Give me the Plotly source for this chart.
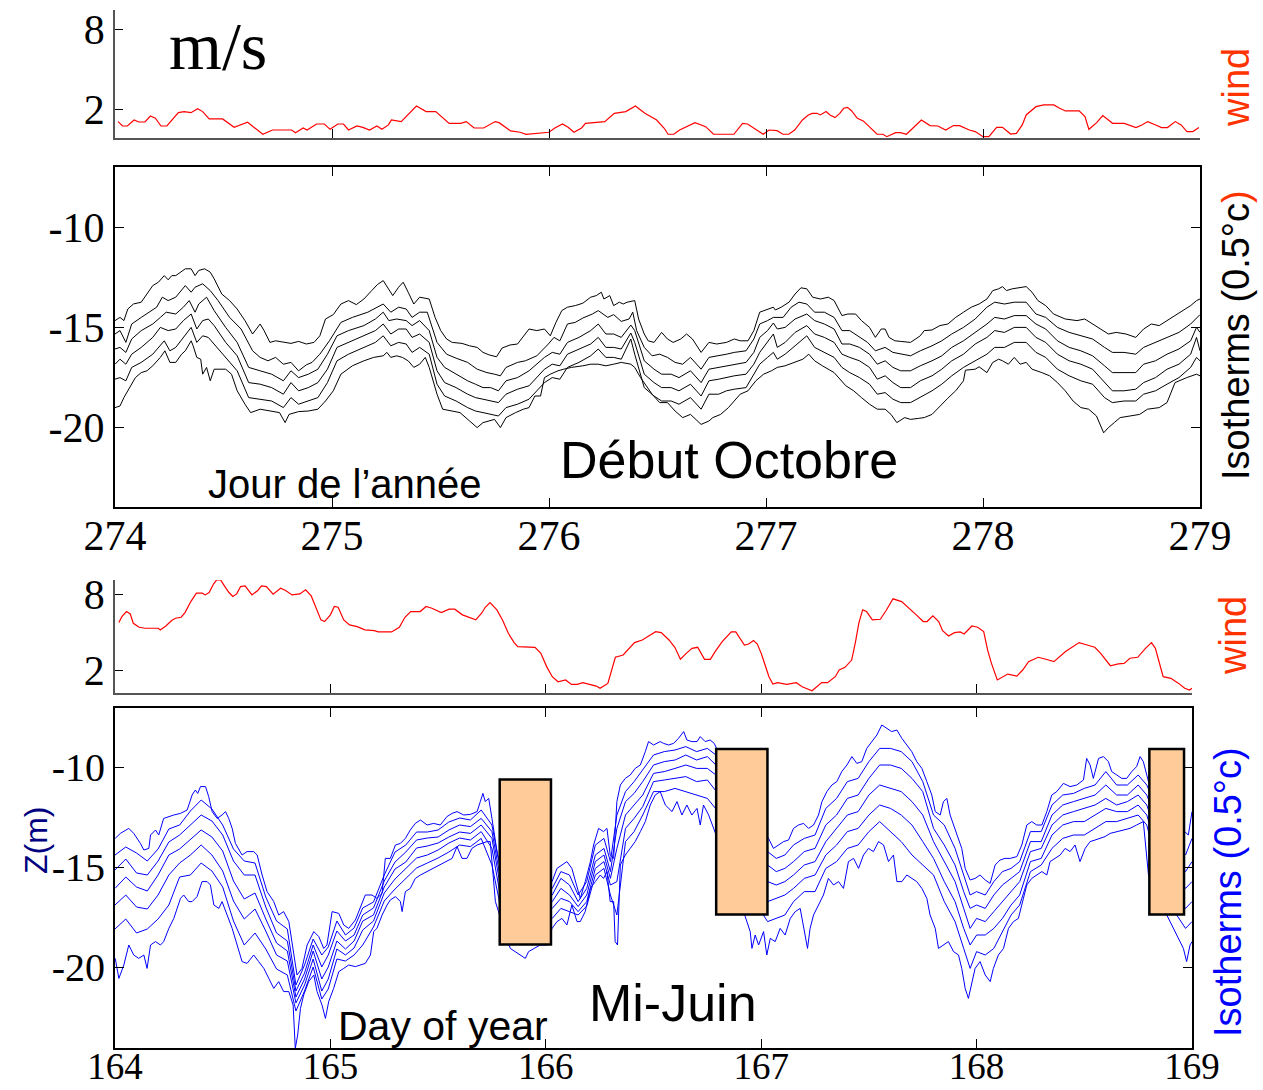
import plotly.graph_objects as go

# ---------------- DATA ----------------
WIND_OCT = [(274.014,1.08),(274.035,0.75),(274.057,0.75),(274.088,1.2),(274.110,1.05),(274.138,1.05),(274.163,1.5),(274.186,1.33),(274.212,0.75),(274.239,0.75),(274.292,1.75),(274.319,1.83),(274.350,1.75),(274.381,2.05),(274.404,1.83),(274.434,1.28),(274.496,1.28),(274.549,0.65),(274.611,1.03),(274.681,0.13),(274.726,0.45),(274.814,0.45),(274.832,0.25),(274.867,0.6),(274.885,0.45),(274.929,0.9),(274.965,0.9),(274.991,0.5),(275.027,0.9),(275.053,0.9),(275.076,0.45),(275.115,0.75),(275.142,0.65),(275.173,0.45),(275.207,0.75),(275.230,0.5),(275.260,0.83),(275.274,1.2),(275.319,1.08),(275.354,1.7),(275.389,2.25),(275.434,1.83),(275.478,1.83),(275.540,0.95),(275.593,0.95),(275.619,1.08),(275.655,0.6),(275.699,0.6),(275.752,1.08),(275.770,1.0),(275.823,0.38),(275.867,0.28),(275.894,0.13),(276.000,0.28),(276.027,0.6),(276.062,0.9),(276.088,0.65),(276.115,0.28),(276.150,0.6),(276.168,0.95),(276.257,1.08),(276.301,1.7),(276.354,1.83),(276.398,2.25),(276.442,1.7),(276.496,1.2),(276.531,0.58),(276.549,0.13),(276.575,0.13),(276.602,0.45),(276.637,0.7),(276.673,1.0),(276.722,0.7),(276.758,0.13),(276.852,0.13),(276.892,0.95),(276.915,0.9),(276.960,0.4),(276.987,0.13),(277.014,0.45),(277.051,0.4),(277.078,0.13),(277.105,0.13),(277.132,0.45),(277.168,1.2),(277.195,1.58),(277.213,1.7),(277.235,1.7),(277.250,1.58),(277.277,1.83),(277.295,1.58),(277.318,1.38),(277.340,1.7),(277.358,2.08),(277.376,2.15),(277.394,1.9),(277.421,1.33),(277.448,1.13),(277.476,0.7),(277.512,0.13),(277.539,0.13),(277.557,-0.05),(277.597,0.25),(277.620,0.25),(277.647,0.13),(277.684,0.7),(277.716,1.2),(277.756,0.78),(277.792,0.75),(277.828,0.45),(277.864,0.78),(277.892,0.78),(277.937,0.45),(277.964,0.33),(278.000,-0.05),(278.027,-0.05),(278.063,0.65),(278.090,0.65),(278.127,0.15),(278.154,0.2),(278.181,0.83),(278.199,1.58),(278.244,2.2),(278.280,2.33),(278.326,2.33),(278.353,2.08),(278.380,1.88),(278.443,1.88),(278.470,1.45),(278.488,0.5),(278.506,0.75),(278.524,1.0),(278.552,1.53),(278.597,0.95),(278.651,0.95),(278.705,0.63),(278.732,0.83),(278.759,1.08),(278.796,0.83),(278.823,0.63),(278.850,0.63),(278.886,1.08),(278.913,0.83),(278.940,0.33),(278.967,0.33),(278.995,0.63)]

WIND_JUN = [(164.018,5.76),(164.032,6.23),(164.053,6.63),(164.071,6.44),(164.085,5.70),(164.112,5.39),(164.139,5.31),(164.201,5.31),(164.210,5.18),(164.236,5.49),(164.263,5.92),(164.281,6.10),(164.307,6.18),(164.325,6.55),(164.352,7.42),(164.378,8.09),(164.405,8.09),(164.419,7.95),(164.437,8.14),(164.458,8.83),(164.472,9.14),(164.490,9.14),(164.508,8.67),(164.529,8.14),(164.547,7.82),(164.565,8.03),(164.583,8.61),(164.604,8.67),(164.636,7.95),(164.663,8.30),(164.680,8.67),(164.703,8.61),(164.734,8.01),(164.769,8.48),(164.792,8.30),(164.822,7.95),(164.858,8.03),(164.885,8.35),(164.911,7.87),(164.929,7.08),(164.956,5.97),(164.973,5.84),(165.000,6.37),(165.018,7.03),(165.036,6.97),(165.062,5.97),(165.089,5.57),(165.124,5.44),(165.160,5.18),(165.204,5.12),(165.222,5.02),(165.284,5.02),(165.320,5.39),(165.346,6.18),(165.373,6.63),(165.417,6.63),(165.444,7.03),(165.471,6.89),(165.515,6.55),(165.551,6.82),(165.577,6.82),(165.613,6.37),(165.657,6.10),(165.675,5.97),(165.702,6.50),(165.719,6.97),(165.741,7.34),(165.773,6.76),(165.799,5.97),(165.826,4.91),(165.853,4.17),(165.870,3.85),(165.950,3.80),(165.977,3.32),(166.004,2.27),(166.030,1.47),(166.057,1.07),(166.092,1.21),(166.119,0.86),(166.146,0.86),(166.172,1.00),(166.234,0.73),(166.252,0.55),(166.288,0.94),(166.323,3.01),(166.359,3.19),(166.412,4.17),(166.448,4.38),(166.474,4.65),(166.510,5.04),(166.536,4.96),(166.572,4.38),(166.599,3.80),(166.625,2.85),(166.652,3.32),(166.679,3.72),(166.705,3.80),(166.737,2.85),(166.764,2.85),(166.786,3.46),(166.819,4.25),(166.861,5.02),(166.882,5.02),(166.900,4.51),(166.922,3.98),(166.942,4.06),(166.964,4.33),(166.982,4.06),(167.000,3.32),(167.018,2.40),(167.036,1.47),(167.054,0.89),(167.076,1.00),(167.118,0.86),(167.163,1.00),(167.190,0.68),(167.236,0.36),(167.281,1.00),(167.308,1.00),(167.344,1.47),(167.362,2.00),(167.389,2.21),(167.420,2.79),(167.438,4.25),(167.453,5.70),(167.471,6.76),(167.489,6.63),(167.516,5.97),(167.553,6.02),(167.580,6.71),(167.612,7.64),(167.652,7.42),(167.688,6.89),(167.725,6.29),(167.752,5.84),(167.770,5.84),(167.797,6.29),(167.824,5.84),(167.842,5.12),(167.870,4.70),(167.897,4.96),(167.924,5.02),(167.942,4.86),(167.978,5.49),(168.005,5.39),(168.033,5.04),(168.051,3.59),(168.069,2.53),(168.096,1.21),(168.123,1.47),(168.145,1.68),(168.187,1.52),(168.214,2.00),(168.241,2.66),(168.286,3.01),(168.322,2.85),(168.359,2.66),(168.413,3.46),(168.476,4.17),(168.513,3.98),(168.549,3.80),(168.576,3.32),(168.594,2.93),(168.621,2.34),(168.658,2.48),(168.685,2.53),(168.712,2.93),(168.748,3.01),(168.784,3.72),(168.812,4.17),(168.830,3.72),(168.848,2.66),(168.866,1.47),(168.902,1.34),(168.938,0.94),(168.966,0.55),(168.989,0.41),(169.000,0.55)]

ISO_OCT_1 = [(274.00,-14.68),(274.023,-14.52),(274.041,-14.68),(274.059,-14.10),(274.085,-13.85),(274.121,-13.76),(274.147,-13.35),(274.174,-12.93),(274.200,-12.76),(274.227,-12.43),(274.245,-12.64),(274.262,-12.43),(274.280,-12.43),(274.301,-12.26),(274.324,-12.09),(274.351,-12.09),(274.369,-12.43),(274.386,-12.17),(274.413,-12.09),(274.439,-12.26),(274.457,-12.59),(274.492,-13.35),(274.528,-13.68),(274.563,-14.10),(274.599,-14.68),(274.634,-15.35),(274.669,-14.85),(274.687,-15.18),(274.714,-15.77),(274.740,-15.69),(274.776,-15.77),(274.811,-15.82),(274.846,-15.72),(274.882,-15.85),(274.917,-15.77),(274.944,-15.44),(274.970,-14.60),(275.006,-14.38),(275.041,-13.85),(275.076,-13.68),(275.112,-13.88),(275.147,-13.60),(275.183,-13.18),(275.209,-12.88),(275.236,-12.68),(275.262,-13.09),(275.280,-13.43),(275.307,-13.01),(275.328,-12.76),(275.351,-13.26),(275.377,-13.85),(275.404,-13.51),(275.448,-13.60),(275.475,-14.52),(275.501,-15.18),(275.528,-15.60),(275.554,-15.77),(275.599,-15.82),(275.634,-15.94),(275.669,-16.02),(275.696,-16.27),(275.723,-16.39),(275.758,-16.49),(275.784,-16.05),(275.820,-15.90),(275.855,-15.85),(275.908,-15.10),(275.944,-15.18),(275.979,-15.10),(276.006,-15.44),(276.032,-14.77),(276.059,-14.18),(276.085,-14.01),(276.121,-13.93),(276.156,-13.81),(276.192,-13.51),(276.218,-13.43),(276.241,-13.26),(276.253,-13.60),(276.280,-13.43),(276.298,-13.93),(276.324,-13.76),(276.342,-13.85),(276.360,-13.76),(276.395,-13.68),(276.413,-14.60),(276.439,-15.35),(276.457,-15.69),(276.484,-15.77),(276.519,-15.27),(276.546,-15.60),(276.572,-15.77),(276.607,-15.60),(276.634,-15.35),(276.661,-15.60),(276.701,-16.27),(276.737,-15.77),(276.773,-15.85),(276.818,-15.77),(276.854,-15.60),(276.881,-15.69),(276.917,-15.69),(276.944,-15.18),(276.971,-14.26),(277.007,-14.10),(277.034,-14.01),(277.043,-14.15),(277.070,-14.01),(277.106,-13.76),(277.134,-13.35),(277.161,-13.04),(277.188,-13.09),(277.215,-13.51),(277.251,-13.60),(277.287,-13.51),(277.314,-13.68),(277.350,-14.43),(277.377,-14.35),(277.413,-14.35),(277.440,-14.68),(277.477,-15.02),(277.504,-15.52),(277.531,-15.10),(277.549,-15.10),(277.567,-15.52),(277.594,-15.69),(277.621,-15.72),(277.666,-15.77),(277.711,-15.44),(277.729,-15.18),(277.765,-15.15),(277.801,-14.93),(277.838,-14.85),(277.874,-14.52),(277.910,-14.26),(277.946,-14.01),(277.982,-13.85),(278.018,-13.60),(278.045,-13.18),(278.072,-13.09),(278.090,-12.98),(278.108,-13.18),(278.135,-13.09),(278.171,-13.01),(278.199,-12.98),(278.226,-13.26),(278.253,-13.68),(278.289,-13.93),(278.325,-14.35),(278.379,-14.60),(278.433,-14.68),(278.469,-14.60),(278.505,-14.85),(278.542,-15.10),(278.578,-15.35),(278.614,-15.27),(278.659,-15.35),(278.704,-15.52),(278.740,-15.10),(278.776,-14.85),(278.812,-14.93),(278.848,-14.68),(278.885,-14.43),(278.921,-14.18),(278.957,-13.93),(278.984,-13.68),(279.0,-13.60)]

ISO_OCT_2 = [(274.00,-15.35),(274.023,-15.18),(274.050,-15.77),(274.077,-14.85),(274.121,-14.52),(274.156,-14.26),(274.192,-14.01),(274.218,-13.51),(274.245,-13.68),(274.280,-13.51),(274.324,-12.93),(274.351,-13.26),(274.369,-13.01),(274.404,-12.84),(274.439,-13.18),(274.475,-13.68),(274.528,-14.52),(274.581,-15.10),(274.634,-16.19),(274.669,-16.52),(274.705,-16.69),(274.740,-16.52),(274.776,-16.86),(274.811,-16.77),(274.846,-17.19),(274.882,-16.89),(274.908,-16.77),(274.944,-16.36),(274.988,-15.69),(275.041,-14.77),(275.094,-14.52),(275.165,-14.26),(275.236,-13.85),(275.271,-14.26),(275.307,-14.01),(275.342,-14.10),(275.369,-14.52),(275.404,-14.26),(275.439,-14.26),(275.484,-15.77),(275.528,-16.36),(275.572,-16.56),(275.625,-16.77),(275.669,-17.11),(275.714,-17.28),(275.749,-17.36),(275.776,-17.44),(275.802,-17.02),(275.855,-16.77),(275.891,-16.69),(275.944,-16.44),(275.997,-15.85),(276.023,-15.52),(276.050,-15.69),(276.085,-14.85),(276.121,-14.77),(276.156,-14.55),(276.200,-14.35),(276.227,-14.18),(276.271,-14.52),(276.298,-14.38),(276.333,-14.72),(276.369,-14.60),(276.386,-14.26),(276.404,-15.18),(276.439,-16.02),(276.475,-16.44),(276.510,-16.36),(276.546,-16.52),(276.581,-16.77),(276.616,-16.86),(276.652,-16.52),(276.701,-17.11),(276.737,-16.52),(276.782,-16.44),(276.818,-16.36),(276.854,-16.27),(276.908,-16.19),(276.944,-15.60),(276.971,-14.85),(277.007,-14.68),(277.034,-14.52),(277.079,-14.52),(277.116,-14.01),(277.152,-13.76),(277.188,-13.85),(277.224,-14.26),(277.269,-14.26),(277.314,-14.52),(277.350,-15.18),(277.386,-15.18),(277.422,-15.44),(277.468,-15.77),(277.504,-16.19),(277.549,-16.02),(277.585,-16.27),(277.621,-16.36),(277.666,-16.44),(277.711,-16.19),(277.765,-15.94),(277.810,-15.69),(277.856,-15.35),(277.910,-15.02),(277.964,-14.60),(278.018,-14.01),(278.054,-13.76),(278.099,-13.85),(278.144,-13.76),(278.199,-13.76),(278.244,-14.35),(278.289,-14.52),(278.343,-15.02),(278.397,-15.27),(278.451,-15.44),(278.505,-15.60),(278.560,-16.02),(278.596,-16.27),(278.650,-16.27),(278.704,-16.36),(278.740,-16.02),(278.795,-15.77),(278.848,-15.52),(278.903,-15.27),(278.957,-14.85),(278.984,-14.52),(279.0,-14.38)]

ISO_OCT_3 = [(274.00,-16.10),(274.023,-16.02),(274.050,-16.27),(274.077,-15.60),(274.121,-15.18),(274.174,-14.85),(274.209,-14.52),(274.236,-14.26),(274.280,-14.35),(274.315,-14.01),(274.342,-13.68),(274.369,-14.26),(274.386,-13.85),(274.422,-13.51),(274.457,-14.18),(274.510,-15.02),(274.563,-15.77),(274.616,-17.02),(274.669,-17.19),(274.722,-17.36),(274.776,-17.69),(274.811,-17.19),(274.846,-17.53),(274.891,-17.36),(274.935,-17.11),(274.979,-16.36),(275.023,-15.44),(275.076,-15.18),(275.147,-14.93),(275.200,-14.60),(275.236,-14.26),(275.262,-14.68),(275.298,-14.60),(275.342,-14.68),(275.369,-14.93),(275.404,-14.68),(275.448,-15.18),(275.484,-16.52),(275.519,-17.02),(275.572,-17.36),(275.625,-17.69),(275.661,-17.86),(275.696,-18.03),(275.731,-18.03),(275.767,-18.19),(275.802,-17.69),(275.855,-17.53),(275.908,-17.19),(275.979,-16.52),(276.015,-16.27),(276.050,-16.36),(276.085,-15.77),(276.138,-15.52),(276.192,-15.18),(276.227,-14.85),(276.262,-15.35),(276.298,-15.35),(276.333,-15.52),(276.377,-14.90),(276.395,-15.18),(276.439,-16.69),(276.484,-17.11),(276.519,-17.36),(276.563,-17.36),(276.599,-17.53),(276.652,-17.19),(276.701,-17.78),(276.737,-17.11),(276.782,-17.02),(276.818,-16.94),(276.854,-16.86),(276.908,-16.77),(276.944,-16.27),(276.971,-15.52),(277.007,-15.18),(277.034,-14.80),(277.052,-15.10),(277.088,-15.02),(277.134,-14.60),(277.188,-14.35),(277.224,-14.68),(277.269,-14.85),(277.314,-15.10),(277.350,-15.85),(277.386,-15.85),(277.431,-16.02),(277.477,-16.36),(277.513,-16.86),(277.549,-16.69),(277.585,-17.02),(277.621,-17.19),(277.666,-17.19),(277.711,-16.94),(277.765,-16.69),(277.810,-16.44),(277.856,-16.02),(277.910,-15.69),(277.964,-15.27),(278.018,-14.85),(278.054,-14.52),(278.099,-14.60),(278.144,-14.43),(278.199,-14.43),(278.244,-14.85),(278.289,-15.10),(278.343,-15.69),(278.397,-16.02),(278.451,-16.19),(278.505,-16.44),(278.560,-16.94),(278.596,-17.28),(278.650,-17.28),(278.704,-17.28),(278.740,-16.86),(278.795,-16.69),(278.848,-16.36),(278.903,-16.10),(278.957,-15.69),(278.984,-15.02),(279.0,-15.27)]

ISO_OCT_4 = [(274.00,-16.86),(274.023,-16.61),(274.050,-16.86),(274.077,-16.36),(274.121,-16.02),(274.174,-15.52),(274.209,-15.02),(274.245,-15.18),(274.280,-15.10),(274.315,-14.68),(274.351,-14.35),(274.377,-15.10),(274.404,-14.68),(274.430,-14.60),(274.457,-14.93),(274.510,-15.77),(274.563,-16.44),(274.616,-17.78),(274.669,-17.86),(274.722,-18.03),(274.776,-18.36),(274.811,-17.78),(274.846,-18.19),(274.891,-18.03),(274.935,-17.78),(274.979,-17.11),(275.023,-16.02),(275.076,-15.77),(275.147,-15.44),(275.200,-15.18),(275.236,-14.85),(275.271,-15.35),(275.307,-15.10),(275.342,-15.10),(275.369,-15.52),(275.404,-15.35),(275.448,-15.77),(275.484,-17.19),(275.519,-17.78),(275.572,-18.03),(275.625,-18.36),(275.661,-18.53),(275.696,-18.61),(275.731,-18.70),(275.767,-18.78),(275.802,-18.36),(275.855,-18.11),(275.908,-17.94),(275.979,-17.11),(276.015,-16.86),(276.050,-16.94),(276.085,-16.36),(276.138,-16.10),(276.192,-15.85),(276.227,-15.52),(276.262,-16.02),(276.298,-16.02),(276.333,-16.10),(276.377,-15.30),(276.395,-15.77),(276.439,-17.36),(276.484,-17.78),(276.519,-18.03),(276.563,-18.03),(276.599,-18.19),(276.652,-17.86),(276.701,-18.45),(276.737,-17.69),(276.782,-17.61),(276.818,-17.53),(276.854,-17.44),(276.908,-17.36),(276.944,-16.86),(276.971,-16.27),(277.007,-15.77),(277.034,-15.35),(277.052,-16.02),(277.088,-15.77),(277.134,-15.27),(277.188,-14.93),(277.224,-15.35),(277.269,-15.52),(277.314,-15.77),(277.350,-16.36),(277.386,-16.52),(277.431,-16.69),(277.477,-17.02),(277.513,-17.61),(277.549,-17.44),(277.585,-17.78),(277.621,-18.03),(277.666,-18.03),(277.711,-17.69),(277.765,-17.44),(277.810,-17.11),(277.856,-16.69),(277.910,-16.36),(277.964,-15.85),(278.018,-15.52),(278.054,-15.18),(278.099,-15.27),(278.144,-15.02),(278.199,-15.02),(278.244,-15.52),(278.289,-15.77),(278.343,-16.36),(278.397,-16.69),(278.451,-16.86),(278.505,-17.11),(278.560,-17.78),(278.596,-18.19),(278.650,-18.19),(278.704,-18.11),(278.740,-17.78),(278.795,-17.53),(278.848,-17.11),(278.903,-16.86),(278.957,-16.36),(278.984,-15.52),(279.0,-16.19)]

ISO_OCT_5 = [(274.00,-17.61),(274.023,-17.53),(274.050,-17.69),(274.077,-17.02),(274.121,-16.77),(274.174,-16.36),(274.227,-15.69),(274.253,-16.19),(274.280,-16.02),(274.315,-15.52),(274.351,-15.02),(274.377,-15.77),(274.404,-15.44),(274.430,-15.52),(274.457,-15.85),(274.510,-16.52),(274.563,-17.19),(274.616,-18.53),(274.669,-18.61),(274.722,-18.70),(274.776,-19.03),(274.811,-18.53),(274.846,-18.86),(274.891,-18.70),(274.935,-18.53),(274.979,-17.78),(275.023,-16.69),(275.076,-16.36),(275.147,-16.02),(275.200,-15.77),(275.236,-15.44),(275.271,-15.94),(275.307,-15.77),(275.342,-15.85),(275.369,-16.27),(275.404,-16.02),(275.448,-16.36),(275.484,-17.86),(275.519,-18.45),(275.572,-18.70),(275.625,-19.03),(275.661,-19.20),(275.696,-19.28),(275.731,-19.37),(275.767,-19.45),(275.802,-19.03),(275.855,-18.86),(275.908,-18.61),(275.979,-17.78),(276.015,-17.53),(276.050,-17.61),(276.085,-17.02),(276.138,-16.77),(276.192,-16.44),(276.227,-16.10),(276.262,-16.52),(276.298,-16.52),(276.333,-16.61),(276.377,-15.60),(276.395,-16.36),(276.439,-18.03),(276.484,-18.45),(276.519,-18.70),(276.563,-18.70),(276.599,-18.86),(276.652,-18.53),(276.701,-19.11),(276.737,-18.36),(276.782,-18.36),(276.818,-18.19),(276.854,-18.11),(276.908,-18.03),(276.944,-17.36),(276.971,-16.86),(277.007,-16.52),(277.034,-16.27),(277.052,-16.61),(277.088,-16.36),(277.134,-15.94),(277.188,-15.44),(277.224,-16.02),(277.269,-16.27),(277.314,-16.52),(277.350,-17.02),(277.386,-17.28),(277.431,-17.53),(277.477,-17.86),(277.513,-18.36),(277.549,-18.28),(277.585,-18.61),(277.621,-18.78),(277.666,-18.78),(277.711,-18.53),(277.765,-18.19),(277.810,-17.86),(277.856,-17.44),(277.910,-17.02),(277.964,-16.69),(278.018,-16.36),(278.054,-16.02),(278.099,-16.02),(278.144,-15.77),(278.199,-15.77),(278.244,-16.27),(278.289,-16.52),(278.343,-17.11),(278.397,-17.44),(278.451,-17.69),(278.505,-17.86),(278.560,-18.53),(278.596,-18.78),(278.650,-18.70),(278.704,-18.70),(278.740,-18.36),(278.795,-18.19),(278.848,-17.86),(278.903,-17.53),(278.957,-17.02),(278.984,-16.52),(279.0,-16.69)]

ISO_OCT_6 = [(274.00,-19.03),(274.023,-18.95),(274.041,-18.53),(274.068,-18.03),(274.094,-17.53),(274.121,-17.28),(274.147,-17.19),(274.174,-16.94),(274.209,-16.52),(274.230,-16.19),(274.253,-16.77),(274.280,-16.77),(274.307,-16.36),(274.324,-16.19),(274.351,-15.69),(274.360,-15.94),(274.377,-16.52),(274.395,-16.61),(274.404,-17.36),(274.422,-17.02),(274.439,-17.69),(274.457,-17.11),(274.510,-17.11),(274.537,-17.36),(274.563,-18.19),(274.599,-18.86),(274.625,-19.28),(274.669,-19.11),(274.714,-19.20),(274.758,-19.28),(274.784,-19.78),(274.802,-19.37),(274.846,-19.23),(274.891,-19.20),(274.935,-19.11),(274.970,-18.70),(275.006,-18.19),(275.041,-17.36),(275.094,-16.94),(275.147,-16.69),(275.192,-16.52),(275.236,-16.44),(275.253,-16.27),(275.271,-16.52),(275.298,-16.44),(275.324,-16.52),(275.351,-16.69),(275.377,-17.02),(275.404,-16.86),(275.430,-16.52),(275.448,-17.02),(275.484,-18.36),(275.510,-19.11),(275.546,-19.20),(275.590,-19.28),(275.634,-19.70),(275.669,-20.03),(275.696,-19.78),(275.723,-19.70),(275.749,-19.62),(275.776,-20.03),(275.802,-19.53),(275.846,-19.28),(275.882,-19.11),(275.908,-19.03),(275.935,-18.45),(275.961,-18.45),(275.979,-17.53),(276.006,-17.36),(276.041,-17.19),(276.068,-17.11),(276.103,-17.02),(276.156,-16.94),(276.192,-16.86),(276.227,-16.86),(276.262,-16.94),(276.298,-16.86),(276.333,-16.77),(276.377,-16.86),(276.395,-17.02),(276.422,-17.53),(276.475,-18.36),(276.510,-18.78),(276.546,-18.78),(276.581,-19.20),(276.616,-19.53),(276.652,-19.37),(276.701,-19.87),(276.737,-19.70),(276.755,-19.53),(276.791,-19.37),(276.827,-19.03),(276.881,-18.36),(276.917,-18.19),(276.953,-17.69),(276.989,-17.36),(277.025,-17.19),(277.052,-17.02),(277.088,-16.94),(277.134,-16.77),(277.170,-16.61),(277.197,-16.36),(277.224,-16.69),(277.260,-16.94),(277.314,-17.28),(277.368,-17.94),(277.404,-18.19),(277.440,-18.53),(277.477,-18.86),(277.513,-19.11),(277.549,-19.11),(277.576,-19.37),(277.603,-19.78),(277.639,-19.53),(277.666,-19.62),(277.702,-19.57),(277.729,-19.53),(277.765,-19.37),(277.801,-18.95),(277.838,-18.56),(277.874,-18.19),(277.910,-17.69),(277.919,-17.16),(277.964,-17.11),(277.982,-16.99),(278.018,-17.28),(278.045,-16.77),(278.072,-16.61),(278.090,-16.69),(278.117,-16.86),(278.144,-16.52),(278.171,-16.86),(278.199,-16.77),(278.226,-17.11),(278.271,-17.28),(278.307,-17.44),(278.343,-17.78),(278.379,-18.19),(278.415,-18.70),(278.451,-19.03),(278.487,-19.11),(278.523,-19.45),(278.556,-20.29),(278.578,-20.03),(278.605,-19.78),(278.632,-19.53),(278.677,-19.45),(278.722,-19.37),(278.758,-19.11),(278.812,-19.03),(278.848,-18.78),(278.885,-17.78),(278.939,-17.53),(278.984,-17.36),(279.0,-17.44)]

ISO_JUN_1 = [(164.001,-13.57),(164.025,-13.32),(164.064,-13.07),(164.087,-13.32),(164.118,-13.82),(164.134,-14.15),(164.157,-14.07),(164.165,-13.40),(164.188,-13.15),(164.203,-13.40),(164.226,-12.57),(164.250,-12.48),(164.273,-12.40),(164.304,-12.32),(164.335,-12.15),(164.358,-11.40),(164.373,-11.15),(164.384,-11.32),(164.397,-10.98),(164.420,-10.98),(164.435,-11.48),(164.451,-12.23),(164.474,-12.57),(164.497,-12.40),(164.513,-12.23),(164.528,-12.57),(164.544,-13.07),(164.559,-13.82),(164.590,-14.40),(164.613,-14.23),(164.644,-14.23),(164.660,-14.40),(164.683,-15.40),(164.706,-16.23),(164.737,-16.73),(164.760,-17.40),(164.783,-17.23),(164.807,-17.73),(164.827,-19.07),(164.845,-20.40),(164.868,-20.07),(164.892,-18.90),(164.923,-18.23),(164.946,-18.48),(164.969,-19.07),(164.984,-18.90),(165.008,-17.23),(165.039,-17.32),(165.062,-17.90),(165.085,-18.07),(165.116,-17.65),(165.131,-17.23),(165.147,-16.73),(165.162,-16.40),(165.193,-16.40),(165.216,-16.57),(165.240,-16.32),(165.255,-14.57),(165.278,-14.57),(165.302,-13.90),(165.325,-13.82),(165.348,-13.57),(165.371,-13.15),(165.394,-12.82),(165.418,-12.65),(165.449,-12.90),(165.479,-12.82),(165.510,-12.90),(165.541,-12.48),(165.565,-12.32),(165.588,-12.23),(165.619,-12.40),(165.650,-12.37),(165.681,-12.23),(165.696,-11.73),(165.708,-11.32),(165.719,-11.73),(165.735,-11.57),(165.750,-12.57),(165.766,-13.73),(165.776,-14.40),(165.789,-14.73),(165.897,-15.23),(166.029,-15.73),(166.052,-15.07),(166.075,-14.90),(166.098,-14.73),(166.121,-15.07),(166.145,-16.07),(166.160,-16.57),(166.183,-15.73),(166.207,-14.73),(166.222,-13.90),(166.245,-13.07),(166.268,-13.23),(166.284,-13.07),(166.299,-14.40),(166.315,-14.57),(166.330,-11.73),(166.346,-10.90),(166.369,-10.57),(166.392,-10.40),(166.415,-10.07),(166.439,-9.90),(166.462,-9.23),(166.477,-8.73),(166.500,-8.90),(166.531,-8.73),(166.547,-8.82),(166.570,-8.90),(166.593,-8.82),(166.616,-8.57),(166.640,-8.23),(166.655,-8.65),(166.678,-8.73),(166.702,-8.73),(166.717,-8.48),(166.740,-8.73),(166.763,-8.65),(166.782,-8.82),(166.903,-11.57),(167.034,-13.57),(167.057,-14.07),(167.081,-13.90),(167.104,-13.73),(167.127,-13.65),(167.150,-13.07),(167.173,-12.90),(167.197,-12.82),(167.220,-13.07),(167.243,-12.90),(167.266,-12.40),(167.282,-11.73),(167.305,-11.23),(167.328,-10.90),(167.351,-10.73),(167.374,-10.23),(167.398,-9.90),(167.421,-9.48),(167.444,-9.82),(167.467,-9.73),(167.490,-9.07),(167.514,-8.73),(167.537,-8.40),(167.560,-7.90),(167.583,-8.07),(167.606,-8.23),(167.630,-8.15),(167.653,-8.57),(167.676,-8.90),(167.699,-9.23),(167.722,-9.73),(167.746,-10.07),(167.769,-10.73),(167.792,-11.40),(167.808,-12.23),(167.831,-12.40),(167.846,-11.73),(167.862,-11.57),(167.877,-12.40),(167.893,-12.90),(167.916,-13.57),(167.931,-14.07),(167.947,-15.07),(167.970,-15.65),(167.993,-15.57),(168.016,-15.40),(168.040,-15.65),(168.063,-15.82),(168.086,-14.90),(168.109,-14.65),(168.132,-14.57),(168.156,-14.57),(168.187,-14.48),(168.210,-13.90),(168.233,-12.90),(168.256,-12.73),(168.279,-12.90),(168.303,-12.90),(168.326,-12.23),(168.349,-11.40),(168.372,-11.23),(168.403,-10.82),(168.434,-10.98),(168.465,-10.90),(168.496,-10.65),(168.511,-9.57),(168.527,-9.90),(168.542,-10.57),(168.566,-9.57),(168.589,-9.48),(168.612,-9.73),(168.627,-10.23),(168.651,-10.40),(168.674,-10.57),(168.697,-10.57),(168.720,-10.23),(168.743,-9.98),(168.759,-9.48),(168.774,-9.73),(168.790,-10.40),(168.798,-10.73),(168.883,-12.40),(168.968,-13.23),(168.983,-13.40),(169.0,-12.23)]

ISO_JUN_7 = [(164.001,-19.57),(164.018,-20.57),(164.041,-19.90),(164.064,-18.90),(164.087,-19.40),(164.110,-19.57),(164.134,-19.40),(164.149,-20.07),(164.165,-18.90),(164.188,-18.73),(164.211,-18.90),(164.226,-18.73),(164.250,-18.07),(164.273,-17.57),(164.304,-16.57),(164.319,-16.40),(164.342,-16.73),(164.358,-16.73),(164.381,-16.48),(164.404,-15.73),(164.428,-15.73),(164.443,-15.90),(164.459,-16.90),(164.482,-17.07),(164.497,-16.73),(164.520,-17.40),(164.544,-18.07),(164.567,-18.90),(164.590,-19.73),(164.613,-19.82),(164.644,-19.40),(164.667,-19.73),(164.691,-20.07),(164.714,-20.57),(164.737,-21.07),(164.760,-20.73),(164.783,-21.23),(164.807,-21.23),(164.827,-21.90),(164.837,-24.07),(164.848,-23.40),(164.861,-22.07),(164.876,-21.40),(164.899,-20.73),(164.923,-20.40),(164.938,-21.23),(164.961,-21.90),(164.977,-22.57),(164.992,-21.73),(165.015,-21.07),(165.039,-20.23),(165.062,-20.07),(165.085,-19.90),(165.116,-19.98),(165.139,-19.90),(165.162,-19.82),(165.186,-19.40),(165.201,-18.23),(165.216,-18.07),(165.240,-17.40),(165.263,-16.90),(165.278,-16.65),(165.302,-16.48),(165.325,-16.73),(165.333,-17.23),(165.348,-16.23),(165.371,-16.07),(165.394,-15.57),(165.418,-15.40),(165.449,-15.23),(165.479,-15.07),(165.510,-14.90),(165.541,-14.73),(165.565,-14.57),(165.588,-13.98),(165.611,-14.57),(165.634,-14.57),(165.657,-14.07),(165.681,-13.90),(165.704,-13.82),(165.727,-13.73),(165.742,-13.73),(165.758,-15.73),(165.766,-16.73),(165.835,-19.07),(165.905,-19.57),(165.920,-19.23),(165.944,-19.07),(165.974,-18.90),(166.005,-18.90),(166.029,-18.07),(166.052,-17.73),(166.075,-17.57),(166.098,-17.90),(166.121,-16.90),(166.145,-17.73),(166.160,-17.73),(166.183,-17.23),(166.207,-16.07),(166.230,-15.73),(166.253,-15.40),(166.268,-15.57),(166.284,-15.23),(166.299,-16.73),(166.315,-16.73),(166.322,-18.73),(166.333,-18.90),(166.346,-14.90),(166.369,-14.40),(166.392,-14.07),(166.415,-13.73),(166.439,-13.23),(166.462,-12.73),(166.485,-11.90),(166.508,-11.40),(166.531,-11.23),(166.555,-11.90),(166.586,-12.23),(166.609,-11.73),(166.632,-12.40),(166.655,-11.90),(166.678,-12.40),(166.702,-12.07),(166.717,-12.90),(166.732,-11.90),(166.756,-12.40),(166.779,-13.07),(166.872,-15.73),(166.949,-18.23),(166.957,-19.07),(166.972,-18.40),(166.988,-18.90),(167.011,-18.23),(167.026,-19.40),(167.042,-18.57),(167.065,-18.73),(167.088,-18.07),(167.111,-18.40),(167.135,-17.57),(167.158,-17.23),(167.181,-17.07),(167.215,-19.07),(167.227,-18.07),(167.243,-17.40),(167.266,-16.90),(167.289,-16.40),(167.312,-15.57),(167.336,-15.90),(167.359,-15.73),(167.382,-16.07),(167.405,-14.73),(167.429,-14.57),(167.452,-15.07),(167.475,-14.40),(167.498,-14.07),(167.521,-14.23),(167.545,-13.73),(167.568,-13.90),(167.591,-14.73),(167.614,-14.40),(167.630,-15.73),(167.653,-15.73),(167.676,-15.40),(167.699,-15.57),(167.722,-15.73),(167.746,-16.07),(167.769,-16.57),(167.784,-17.40),(167.808,-18.07),(167.823,-19.07),(167.846,-18.90),(167.869,-18.73),(167.893,-19.23),(167.916,-19.40),(167.931,-20.07),(167.947,-21.07),(167.962,-21.57),(167.978,-20.73),(167.993,-20.07),(168.016,-19.73),(168.040,-20.40),(168.063,-20.73),(168.078,-20.07),(168.101,-19.40),(168.125,-19.07),(168.148,-18.07),(168.171,-17.73),(168.194,-17.57),(168.210,-16.90),(168.233,-15.90),(168.256,-15.57),(168.279,-15.40),(168.303,-15.23),(168.326,-15.40),(168.341,-14.73),(168.364,-14.57),(168.388,-14.40),(168.411,-14.07),(168.434,-14.23),(168.457,-13.90),(168.480,-14.73),(168.504,-14.07),(168.527,-13.73),(168.550,-13.65),(168.573,-13.57),(168.596,-13.48),(168.620,-13.32),(168.651,-13.23),(168.682,-13.15),(168.712,-13.07),(168.743,-12.90),(168.774,-12.73),(168.798,-15.40),(168.883,-17.40),(168.960,-19.07),(168.975,-19.73),(168.991,-18.90),(169.0,-18.73)]

# days shared by the intermediate June isotherms
ISO_JUN_DAYS = [164.00,164.05,164.10,164.15,164.20,164.25,164.30,164.35,164.40,164.45,164.50,164.55,164.60,164.65,164.70,164.75,164.80,164.84,164.88,164.92,164.96,164.99,165.03,165.07,165.11,165.15,165.20,165.25,165.30,165.35,165.40,165.45,165.50,165.55,165.60,165.65,165.70,165.75,165.79,165.90,166.03,166.07,166.11,166.15,166.19,166.23,166.27,166.30,166.33,166.37,166.41,166.45,166.50,166.55,166.60,166.65,166.70,166.75,166.79,166.90,167.03,167.07,167.11,167.15,167.20,167.25,167.30,167.35,167.40,167.45,167.50,167.55,167.60,167.65,167.70,167.75,167.80,167.85,167.90,167.94,167.97,168.00,168.04,168.08,168.12,168.16,168.20,168.25,168.30,168.35,168.40,168.45,168.50,168.55,168.60,168.65,168.70,168.75,168.79,168.88,168.97,169.00]
ISO_JUN_2 = [-14.4,-14.0,-14.3,-14.7,-14.1,-13.1,-12.9,-12.2,-11.65,-12.1,-12.9,-14.1,-14.7,-14.8,-16.5,-17.7,-18.1,-20.9,-19.9,-18.6,-19.4,-19.0,-17.7,-18.4,-18.05,-17.05,-16.75,-15.4,-14.25,-13.9,-13.25,-13.25,-13.15,-12.75,-12.55,-12.65,-12.15,-12.9,-15.2,-15.9,-16.07,-15.23,-15.4,-16.4,-15.73,-13.9,-13.57,-14.73,-12.4,-11.23,-10.73,-10.15,-9.4,-9.23,-9.15,-8.98,-9.23,-9.07,-9.4,-12.5,-14.23,-14.57,-14.4,-13.9,-13.57,-13.4,-12.07,-11.57,-10.73,-10.57,-9.73,-9.07,-9.07,-9.23,-9.73,-10.73,-12.4,-12.9,-14.07,-15.4,-16.4,-16.23,-16.4,-15.73,-15.23,-15.07,-14.73,-13.23,-13.23,-11.9,-11.4,-11.32,-11.07,-10.9,-10.23,-10.9,-10.9,-10.4,-10.9,-13.2,-14.4,-13.57]
ISO_JUN_3 = [-15.15,-14.6,-15.3,-15.4,-14.7,-13.75,-13.4,-12.9,-12.4,-12.7,-13.4,-14.7,-15.4,-15.4,-17.0,-18.3,-18.7,-21.2,-20.3,-18.9,-20.0,-19.4,-18.2,-18.7,-18.4,-17.4,-17.05,-15.7,-14.75,-14.25,-13.65,-13.55,-13.5,-13.15,-12.9,-12.98,-12.57,-13.23,-15.6,-16.5,-16.4,-15.57,-15.9,-16.73,-16.07,-14.4,-14.07,-15.23,-13.07,-11.73,-11.32,-10.73,-9.9,-9.73,-9.65,-9.4,-9.65,-9.48,-9.9,-13.3,-14.9,-15.23,-15.07,-14.73,-14.23,-14.07,-12.9,-12.4,-11.57,-11.4,-10.57,-9.9,-9.9,-10.07,-10.57,-11.23,-13.07,-13.9,-14.9,-16.23,-17.07,-16.9,-17.07,-16.4,-15.9,-15.57,-15.23,-13.73,-13.73,-12.4,-11.9,-11.73,-11.57,-11.4,-10.9,-11.4,-11.4,-10.9,-11.4,-14.0,-15.23,-14.73]
ISO_JUN_4 = [-16.07,-15.5,-16.0,-16.2,-15.4,-14.4,-14.1,-13.6,-13.15,-13.5,-14.2,-15.7,-16.6,-16.3,-17.6,-18.8,-19.2,-21.5,-20.6,-19.2,-20.6,-20.0,-18.7,-19.1,-18.7,-17.7,-17.4,-16.0,-15.1,-14.75,-14.05,-13.95,-13.8,-13.5,-13.25,-13.32,-12.9,-13.57,-16.0,-17.1,-16.73,-16.07,-16.4,-16.98,-16.4,-14.73,-14.4,-15.57,-14.07,-12.4,-11.9,-11.4,-10.32,-10.23,-10.07,-9.9,-10.07,-10.07,-10.4,-14.0,-15.73,-15.9,-15.73,-15.4,-14.9,-14.73,-13.73,-13.07,-12.4,-12.23,-11.4,-10.9,-11.07,-11.23,-11.73,-12.4,-13.73,-14.73,-15.73,-17.07,-18.07,-17.57,-17.73,-17.23,-16.73,-16.23,-15.73,-14.23,-14.07,-12.9,-12.4,-12.23,-12.07,-11.9,-11.57,-11.9,-11.73,-11.4,-11.9,-14.8,-16.07,-15.73]
ISO_JUN_5 = [-16.9,-16.4,-17.0,-17.1,-16.4,-15.4,-14.8,-14.4,-13.9,-14.4,-15.2,-16.7,-17.6,-17.1,-18.2,-19.4,-19.7,-21.8,-20.9,-19.6,-21.2,-20.6,-19.1,-19.4,-19.05,-18.15,-17.7,-16.3,-15.6,-15.1,-14.55,-14.4,-14.15,-13.8,-13.55,-13.65,-13.23,-14.07,-16.5,-17.8,-17.07,-16.57,-16.73,-17.23,-16.73,-15.07,-14.73,-15.9,-15.73,-13.07,-12.57,-11.98,-10.73,-10.65,-10.57,-10.48,-10.73,-10.65,-11.2,-14.8,-16.73,-16.57,-16.4,-16.07,-15.57,-15.4,-14.4,-13.9,-13.23,-13.07,-12.4,-11.9,-12.07,-12.4,-12.9,-13.73,-14.57,-15.73,-16.73,-18.07,-18.9,-18.4,-18.4,-18.07,-17.57,-16.9,-16.4,-14.73,-14.57,-13.4,-12.9,-12.73,-12.73,-12.4,-12.07,-12.23,-12.23,-11.9,-12.4,-15.7,-17.07,-16.73]
ISO_JUN_6 = [-18.1,-17.6,-18.3,-18.1,-17.6,-16.9,-15.5,-15.4,-14.8,-15.2,-16.0,-17.7,-18.9,-18.3,-19.1,-20.1,-20.4,-22.2,-21.2,-20.0,-21.6,-21.1,-19.6,-19.7,-19.4,-18.9,-18.0,-16.7,-16.1,-15.6,-15.05,-14.8,-14.55,-14.25,-13.9,-13.98,-13.57,-14.9,-17.0,-18.6,-17.57,-17.07,-17.23,-17.4,-16.95,-15.4,-15.07,-16.4,-17.4,-13.73,-13.23,-12.4,-11.23,-11.23,-11.07,-11.23,-11.4,-11.57,-12.1,-15.6,-17.73,-17.57,-17.4,-16.73,-16.23,-16.23,-15.07,-14.73,-14.07,-13.9,-13.23,-12.73,-13.23,-13.73,-14.4,-14.9,-15.4,-16.73,-17.73,-19.07,-20.07,-19.23,-19.4,-19.07,-18.23,-17.4,-16.9,-15.23,-14.9,-14.07,-13.57,-13.4,-13.4,-13.07,-12.73,-12.73,-12.57,-12.4,-12.9,-16.6,-18.07,-17.73]

# masked intervals (orange boxes): (start day, end day, top depth, bottom depth)
GAPS_JUN = [(165.786, 166.024, -10.62, -18.87), (166.791, 167.029, -9.10, -17.37), (168.802, 168.963, -9.10, -17.37)]

OCT_DAY_TICKS = [274, 275, 276, 277, 278, 279]
JUN_DAY_TICKS = [164, 165, 166, 167, 168, 169]
DEPTH_TICKS = [-20, -15, -10]
DEPTH_TICK_TEXT = ["-20", "-15", "-10"]
WIND_TICKS = [2, 8]

# ---------------- FIGURE ----------------
W, H = 1263, 1090
SERIF = "Liberation Serif"
SANS = "Liberation Sans"

fig = go.Figure()

def add_line(pairs, ax, color, width=1.0):
    fig.add_trace(go.Scatter(x=[p[0] for p in pairs], y=[p[1] for p in pairs], mode="lines",
                             line=dict(color=color, width=width), xaxis="x" + ax, yaxis="y" + ax,
                             hoverinfo="skip"))

add_line(WIND_OCT, "", "#FF0000", 1.2)
for ln in [ISO_OCT_1, ISO_OCT_2, ISO_OCT_3, ISO_OCT_4, ISO_OCT_5, ISO_OCT_6]:
    add_line(ln, "2", "#000000", 1.0)
add_line(WIND_JUN, "3", "#FF0000", 1.2)
add_line(ISO_JUN_1, "4", "#0000FF", 1.0)
for zs in [ISO_JUN_2, ISO_JUN_3, ISO_JUN_4, ISO_JUN_5, ISO_JUN_6]:
    add_line(list(zip(ISO_JUN_DAYS, zs)), "4", "#0000FF", 1.0)
add_line(ISO_JUN_7, "4", "#0000FF", 1.0)

def px_x(p):
    return p / W

def px_y(p):
    return 1 - p / H

def axis(**kw):
    base = dict(showgrid=False, zeroline=False, showline=True, linecolor="black",
                ticks="inside", tickcolor="black", automargin=False)
    base.update(kw)
    return base

xdom_top = [px_x(115), px_x(1200)]
xdom_bot = [px_x(115), px_x(1192)]
WIND_LINE = "#555555"

fig.update_layout(
    width=W, height=H, margin=dict(l=0, r=0, t=0, b=0, autoexpand=False),
    paper_bgcolor="white", plot_bgcolor="white", showlegend=False,
    xaxis=axis(domain=xdom_top, range=[274, 279], anchor="y", tickvals=OCT_DAY_TICKS[1:],
               showticklabels=False, ticklen=9, linewidth=1.5, linecolor=WIND_LINE),
    yaxis=axis(domain=[px_y(138), px_y(10)], range=[-0.15, 9.45], anchor="x", tickvals=WIND_TICKS,
               ticktext=[str(v) for v in WIND_TICKS], ticklen=8, linewidth=1.5, linecolor=WIND_LINE,
               tickfont=dict(family=SERIF, size=42, color="black")),
    xaxis2=axis(domain=xdom_top, range=[274, 279], anchor="y2", tickvals=OCT_DAY_TICKS,
                ticktext=[str(v) for v in OCT_DAY_TICKS], ticklen=9, linewidth=2, mirror="ticks",
                ticklabelstandoff=-9,
                tickfont=dict(family=SERIF, size=42, color="black")),
    yaxis2=axis(domain=[px_y(507), px_y(167)], range=[-24, -7], anchor="x2", tickvals=DEPTH_TICKS,
                ticktext=DEPTH_TICK_TEXT, ticklen=9, linewidth=2, mirror="ticks",
                tickfont=dict(family=SERIF, size=42, color="black")),
    xaxis3=axis(domain=xdom_bot, range=[164, 169], anchor="y3", tickvals=JUN_DAY_TICKS[1:],
                showticklabels=False, ticklen=9, linewidth=1.5, linecolor=WIND_LINE),
    yaxis3=axis(domain=[px_y(693), px_y(580)], range=[0.18, 9.13], anchor="x3", tickvals=WIND_TICKS,
                ticktext=[str(v) for v in WIND_TICKS], ticklen=8, linewidth=1.5, linecolor=WIND_LINE,
                tickfont=dict(family=SERIF, size=42, color="black")),
    xaxis4=axis(domain=xdom_bot, range=[164, 169], anchor="y4", tickvals=JUN_DAY_TICKS,
                ticktext=[str(v) for v in JUN_DAY_TICKS], ticklen=9, linewidth=2, mirror="ticks",
                ticklabelstandoff=-15,
                tickfont=dict(family=SERIF, size=37, color="black")),
    yaxis4=axis(domain=[px_y(1048), px_y(708)], range=[-24.05, -7.05], anchor="x4", tickvals=DEPTH_TICKS,
                ticktext=DEPTH_TICK_TEXT, ticklen=9, linewidth=2, mirror="ticks",
                tickfont=dict(family=SERIF, size=40, color="black")),
)

for (d0, d1, z0, z1) in GAPS_JUN:
    fig.add_shape(type="rect", xref="x4", yref="y4", x0=d0, x1=d1, y0=z0, y1=z1,
                  fillcolor="#FFCC99", line=dict(color="black", width=2.5), layer="above")

def note(text, x, y, size, color="black", family=SANS, angle=0):
    fig.add_annotation(text=text, x=px_x(x), y=px_y(y), xref="paper", yref="paper",
                       showarrow=False, xanchor="center", yanchor="middle", textangle=angle,
                       font=dict(family=family, size=size, color=color))

note("m/s", 218, 46, 68, family=SERIF)
note("wind", 1236, 88, 38, color="#FF3300", angle=-90)
note("Isotherms (0.5°c<span style='color:#FF3300'>)</span>", 1236, 335, 38, angle=-90)
note("wind", 1233, 636, 38, color="#FF3300", angle=-90)
note("Isotherms (0.5°c)", 1228, 892, 38, color="#0000FF", angle=-90)
note("Z(m)", 36, 840, 32, color="#000080", angle=-90)
note("Jour de l’année", 345, 484, 40)
note("Début Octobre", 729, 460, 52)
note("Day of year", 443, 1026, 41)
note("Mi-Juin", 673, 1003, 52)

fig.write_html("out.html")
